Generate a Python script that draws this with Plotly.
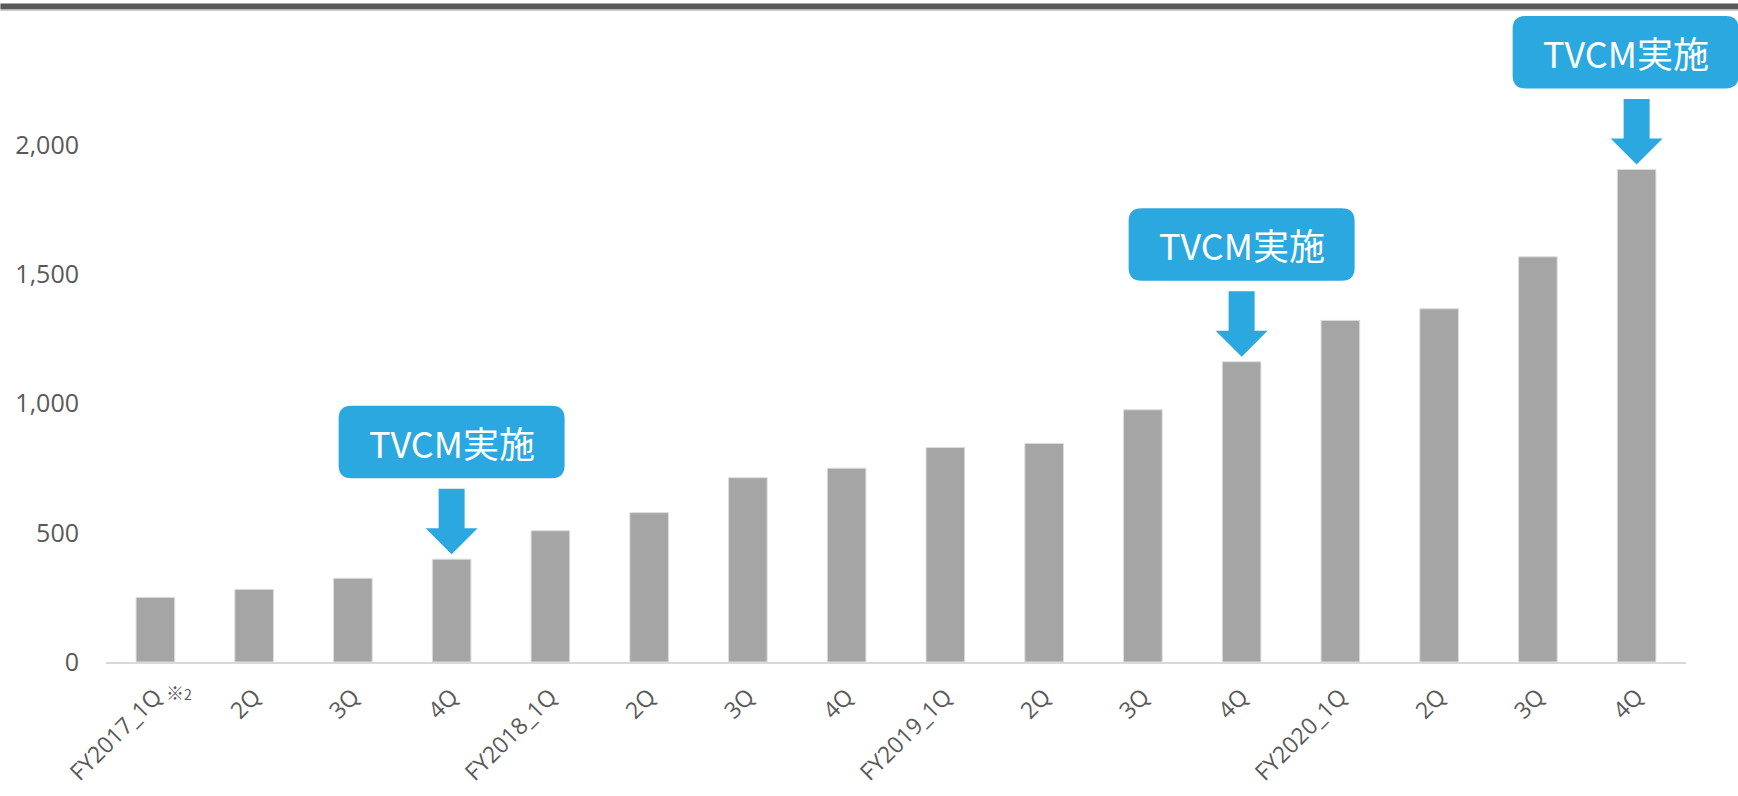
import plotly.graph_objects as go

# ---- data -------------------------------------------------------------------
quarter_labels = [
    "FY2017_1Q", "2Q", "3Q", "4Q",
    "FY2018_1Q", "2Q", "3Q", "4Q",
    "FY2019_1Q", "2Q", "3Q", "4Q",
    "FY2020_1Q", "2Q", "3Q", "4Q",
]
values = [250, 281, 324, 398, 508, 578, 713, 750,
          830, 846, 976, 1162, 1322, 1367, 1568, 1906]
y_ticks = [0, 500, 1000, 1500, 2000]
tvcm_quarters = [3, 11, 15]          # index of the quarters with a TV campaign
tvcm_box_shift = [0, 0, -11]         # horizontal nudge of the callout box (px)
callout_text = "TVCM実施"

BAR_COL = "#a5a5a5"
BLUE = "#2ba8e0"
TEXT_COL = "#595959"
AXIS_COL = "#d9d9d9"
FONT = "Open Sans, Noto Sans CJK JP, sans-serif"

n = len(values)
x_idx = list(range(n))

fig = go.Figure()
fig.add_trace(go.Bar(
    x=x_idx, y=values,
    marker=dict(color=BAR_COL, line=dict(color="#dcdcdc", width=1)),
    hoverinfo="x+y",
))

# ---- callouts: rounded box + down arrow, in pixels relative to the bar top ---
tip = 5
box_bottom, box_h, box_hw, r = 76, 72.5, 113, 13
shapes = []
annotations = []
for i, dx in zip(tvcm_quarters, tvcm_box_shift):
    xa = (i + 0.5) / n
    ya = values[i]
    left, right = dx - box_hw, dx + box_hw
    bot, top = tip + box_bottom, tip + box_bottom + box_h
    box_path = (
        f"M {left + r},{top} L {right - r},{top} Q {right},{top} {right},{top - r} "
        f"L {right},{bot + r} Q {right},{bot} {right - r},{bot} "
        f"L {left + r},{bot} Q {left},{bot} {left},{bot + r} "
        f"L {left},{top - r} Q {left},{top} {left + r},{top} Z"
    )
    arrow_path = (
        f"M -13,{tip + 65.5} L 13,{tip + 65.5} L 13,{tip + 26} L 26,{tip + 26} "
        f"L 0,{tip} L -26,{tip + 26} L -13,{tip + 26} Z"
    )
    for p in (box_path, arrow_path):
        shapes.append(dict(
            type="path", path=p,
            xref="paper", yref="y", xsizemode="pixel", ysizemode="pixel",
            xanchor=xa, yanchor=ya,
            fillcolor=BLUE, line=dict(width=0), layer="above",
        ))
    annotations.append(dict(
        x=xa, y=ya, xref="paper", yref="y",
        xshift=dx, yshift=tip + box_bottom + box_h / 2,
        text=callout_text, showarrow=False,
        font=dict(family="Noto Sans CJK JP, sans-serif", size=36, color="white"),
        xanchor="center", yanchor="middle",
    ))

# footnote mark next to the first quarter label
annotations.append(dict(
    x=0, y=0, xref="x", yref="y", xshift=24, yshift=-30,
    text="※<span style='font-size:14px'>2</span>", showarrow=False,
    font=dict(family="Noto Sans CJK JP, sans-serif", size=18, color=TEXT_COL),
    xanchor="center", yanchor="middle",
))

# dark rule across the top of the slide
plot_w, plot_h = 1738 - 105.6 - 52.4, 796 - 16 - 134
shapes.append(dict(
    type="rect", xref="paper", yref="paper",
    x0=-105.6 / plot_w, x1=1 + 60 / plot_w,
    y0=1 + (16 - 9.5) / plot_h, y1=1 + (16 - 3.5) / plot_h,
    fillcolor="#595959", line=dict(width=0),
))
shapes.append(dict(
    type="rect", xref="paper", yref="paper",
    x0=-105.6 / plot_w, x1=1 + 60 / plot_w,
    y0=1 + (16 - 11) / plot_h, y1=1 + (16 - 9.5) / plot_h,
    fillcolor="#c8c8c8", line=dict(width=0),
))

fig.update_layout(
    width=1738, height=796,
    paper_bgcolor="white", plot_bgcolor="white",
    margin=dict(l=105.6, r=52.4, t=16, b=134, autoexpand=False),
    font=dict(family=FONT, color=TEXT_COL, size=25),
    showlegend=False,
    bargap=0.609,
    xaxis=dict(
        range=[-0.5, n - 0.5], automargin=False,
        tickmode="array", tickvals=x_idx, ticktext=quarter_labels,
        tickangle=-45, showgrid=False, zeroline=False,
        showline=True, linecolor=AXIS_COL, linewidth=2,
        ticks="", ticklabelstandoff=10,
        tickfont=dict(family=FONT, size=23, color=TEXT_COL),
    ),
    yaxis=dict(
        range=[0, 2500], automargin=False,
        tickmode="array", tickvals=y_ticks, tickformat=",",
        showgrid=False, zeroline=False, showline=False,
        ticks="", ticklabelstandoff=26,
        tickfont=dict(family=FONT, size=25, color=TEXT_COL),
    ),
    shapes=shapes,
    annotations=annotations,
)

# the page's default body margin would push the figure 8px down and right
fig.write_html(
    "out.html",
    config={"displayModeBar": False},
    post_script="document.body.style.margin='0';",
)
